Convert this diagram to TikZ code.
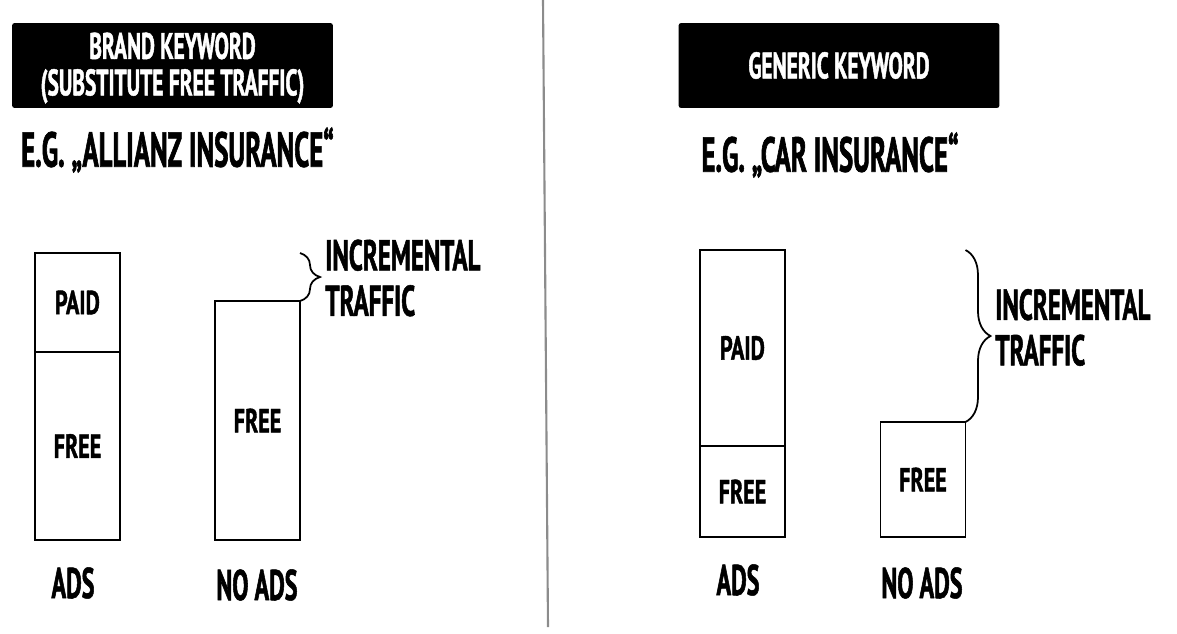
\documentclass[tikz,border=0pt]{standalone}
\usepackage{fontspec}
\newcommand\condfont[2]{\fontspec{PT Sans Bold}[FakeStretch=#1, FakeBold=1.2]\fontsize{#2}{1.18\dimexpr#2pt\relax}\selectfont}
\usetikzlibrary{positioning,decorations.pathreplacing}

\begin{document}
\begin{tikzpicture}[x=0.02cm, y=-0.02cm,
	titlebox/.style={fill=black, text=white, rounded corners=1.5pt, minimum width=6.42cm, minimum height=1.7cm, inner sep=0pt, align=center, font=\condfont{0.58}{21}},
	example/.style={inner sep=0pt, font=\condfont{0.545}{28}},
	bar/.style={draw, line width=1pt, minimum width=1.7cm, inner sep=0pt, outer sep=0pt, font=\condfont{0.66}{19}},
	adslabel/.style={inner sep=0pt, font=\condfont{0.56}{24.5}},
	bracelabel/.style={inner sep=0pt, align=left, font=\condfont{0.58}{24.5}},
	incbrace/.style={decorate, line width=1pt, decoration={brace, amplitude=#1}}
	]
	\useasboundingbox (0,0) rectangle (1177,633);

	% divider
	\draw[line width=1.2pt, gray!90] (543,0) -- (548,627);

	% brand keyword
	\node[titlebox] (brand) at (172.5,65.5) {};
	\node[text=white, align=center, inner sep=0pt, font=\condfont{0.58}{21}] (brandTxt) at (172.5,68) {BRAND KEYWORD\\[-4pt](SUBSTITUTE FREE TRAFFIC)};
	\node[example] (brandEx) at (177.5,150) {E.G. „ALLIANZ INSURANCE“};

	\node[bar, minimum height=1.98cm] (paidL) at (77.5,302.5) {PAID};
	\node[bar, minimum height=3.76cm, below=0pt of paidL] (freeL) {FREE};
	\node[bar, minimum height=4.78cm] (freeN) at (257.5,420.5) {FREE};

	\node[adslabel] (adsL) at (73,583) {ADS};
	\node[adslabel] (noadsL) at (257,585) {NO ADS};

	\draw[incbrace=0.4cm] (freeN.east |- paidL.north) -- (freeN.north east);
	\node[bracelabel, anchor=west] (incL) at (325,278) {INCREMENTAL\\[-3pt]TRAFFIC};

	% generic keyword
	\node[titlebox] (generic) at (839,65.5) {GENERIC KEYWORD};
	\node[example] (genericEx) at (830,155) {E.G. „CAR INSURANCE“};

	\node[bar, minimum height=3.92cm] (paidR) at (742.5,348) {PAID};
	\node[bar, minimum height=1.82cm, below=0pt of paidR] (freeR) {FREE};
	\node[bar, minimum height=2.3cm] (freeNR) at (923,479.5) {FREE};

	\node[adslabel] (adsR) at (738,580) {ADS};
	\node[adslabel] (noadsR) at (922,583) {NO ADS};

	\draw[incbrace=0.5cm] (freeNR.east |- paidR.north) -- (freeNR.north east);
	\node[bracelabel, anchor=west] (incR) at (995,327.5) {INCREMENTAL\\[-3pt]TRAFFIC};

\end{tikzpicture}
\end{document}
